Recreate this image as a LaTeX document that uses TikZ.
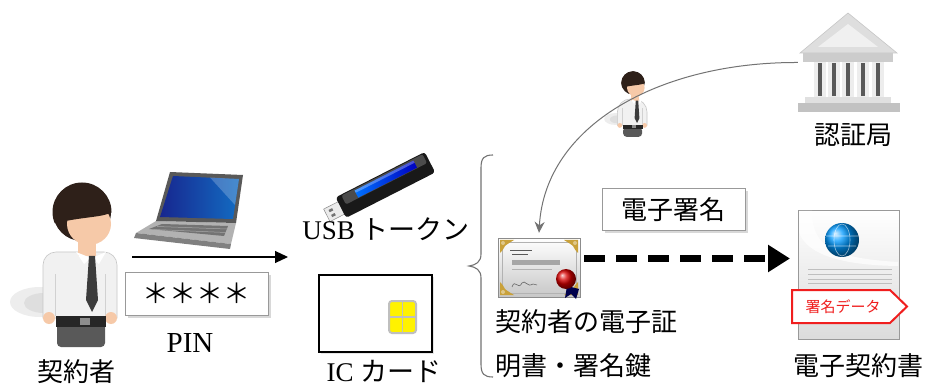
\documentclass[tikz,border=0pt]{standalone}
\usepackage{fontspec}
\setmainfont{Liberation Serif}
\newfontfamily\jp{Noto Sans CJK JP}
\usetikzlibrary{arrows.meta,shadows,calc}

\definecolor{skin}{HTML}{F6C9A8}
\definecolor{hair}{HTML}{2E2019}
\definecolor{shirt}{HTML}{F1F1F1}
\definecolor{tiecol}{HTML}{3C3C3C}
\definecolor{pants}{HTML}{595959}
\definecolor{scrblue}{HTML}{1B2DA8}
\definecolor{gold}{HTML}{C9A13A}
\definecolor{tagred}{HTML}{F01E1E}

\tikzset{
  lbl/.style={inner sep=0pt, font=\jp\fontsize{26}{30}\selectfont},
  textbox/.style={draw=black!40, fill=white, line width=0.8pt, inner sep=0pt,
    minimum width=143pt, minimum height=42pt,
    drop shadow={shadow xshift=3pt, shadow yshift=-3pt, fill=black!30}},
  art/.style={inner sep=0pt, minimum width=#1},
  person/.pic={
    % soft cast shadow
    \fill[black!7] (-42,90) ellipse [x radius=30pt, y radius=15pt];
    \fill[black!13] (-38,91) ellipse [x radius=20pt, y radius=10pt];
    % pants
    \fill[pants, rounded corners=4pt] (-25,110) rectangle (23,135);
    % shirt with sleeves
    \filldraw[fill=shirt, draw=black!22, line width=0.6pt]
      (-39,106) [rounded corners=13pt] -- (-39,40) -- (35,40) [sharp corners] -- (35,106) -- cycle;
    \draw[black!18, line width=0.6pt] (-27,62) -- (-27,104) (23,62) -- (23,104);
    % hands
    \fill[skin] (-33,106) ellipse [x radius=6pt, y radius=6pt];
    \fill[skin] (29,106) ellipse [x radius=6pt, y radius=6pt];
    % belt
    \fill[black!85] (-26,104) rectangle (24,115);
    \fill[black!45] (-2,106) rectangle (8,113);
    % neck and collar
    \fill[skin] (-4,26) rectangle (14,44);
    \fill[white] (-6,40) -- (9,46) -- (2,52) -- cycle;
    \fill[white] (24,40) -- (10,46) -- (17,52) -- cycle;
    % tie
    \fill[tiecol] (7,44) -- (13,44) -- (16,88) -- (10,100) -- (4,88) -- cycle;
    % head: hair, face, fringe
    \fill[hair] (0,0) circle [radius=29pt];
    \fill[skin] (7,12) ellipse [x radius=22pt, y radius=21pt];
    \begin{scope}
      \clip (0,0) circle [radius=29.5pt];
      \fill[hair] (-31,-31) -- (31,-31) -- (31,0) .. controls (18,6) and (4,4) .. (-31,12) -- cycle;
    \end{scope}
  }
}

\begin{document}
\begin{tikzpicture}[x=1pt,y=-1pt]
\fill[white] (0,0) rectangle (931,387);
\useasboundingbox (0,0) rectangle (931,387);

% ---------- signer ----------
\node[art=76pt, minimum height=164pt] (signer) at (80,264) {};
\pic at (82,212) {person};
\node[lbl] (signerlbl) at (76,372) {契約者};

% ---------- laptop ----------
\node[art=110pt, minimum height=78pt] (laptop) at (188,210) {};
\fill[black!30] (156,221) -- (236,223) -- (231,244) -- (136,233) -- cycle;
\fill[black!55] (162,224) -- (228,226) -- (224,236) -- (149,229) -- cycle;
\draw[black!35, line width=0.5pt] (157,226.5) -- (227,229) (154,229.5) -- (226,232.5);
\fill[black!50] (136,233) -- (231,244) -- (230,249) -- (134,238) -- cycle;
\fill[black!65] (170,172) -- (243,175) -- (236,223) -- (156,221) -- cycle;
\shade[left color=scrblue!85!black, right color=scrblue!70!cyan]
  (173,176) -- (239,179) -- (233,219) -- (160,217) -- cycle;
\fill[white, opacity=0.22] (210,177.5) -- (239,179) -- (235,205) -- cycle;

% ---------- PIN ----------
\node[textbox, minimum height=43pt, font=\jp\fontsize{27}{30}\selectfont] (pin) at (196.5,293.5) {＊＊＊＊};
\node[inner sep=0pt, font=\fontsize{29}{32}\selectfont] (pinlbl) at (190,343) {PIN};

% ---------- USB token ----------
\node[art=105pt, minimum height=60pt] (usb) at (378,188) {};
\begin{scope}[shift={(378.5,189)}, rotate=27]
  \filldraw[fill=black!8, draw=black!45, line width=0.5pt] (-58,-7) rectangle (-40,7);
  \fill[black!55] (-54,-4) rectangle (-50,-1.5) (-54,1.5) rectangle (-50,4);
  \fill[black!90, rounded corners=3pt] (-42,-12) rectangle (58,11);
  \fill[black!70, rounded corners=2pt] (-36,-11) rectangle (55,-1);
  \shade[left color=blue!55!cyan, right color=blue!75!black] (-22,-9.5) rectangle (44,-1.5);
  \fill[white, opacity=0.3] (-22,-9.5) rectangle (44,-7);
\end{scope}
\node[inner sep=0pt, font=\fontsize{27}{30}\selectfont] (usblbl) at (386,229) {USB {\jp トークン}};

% ---------- PIN entry arrow ----------
\coordinate (pinfrom) at (132,257);
\coordinate (pinto) at (288,257);
\draw[line width=1.2pt, -{Triangle[length=13pt, width=12pt]}] (pinfrom) -- (pinto);

% ---------- IC card ----------
\node[draw=black, line width=1.8pt, fill=white, minimum width=113pt, minimum height=77pt,
  inner sep=0pt, drop shadow={shadow xshift=2pt, shadow yshift=-2pt, fill=black!20}] (card) at (375.5,313.5) {};
\filldraw[fill=yellow, draw=black!25, line width=2pt, rounded corners=3pt] (389,301) rectangle (416,333);
\draw[black!25, line width=1.2pt] (402.5,301) -- (402.5,333) (389,317) -- (416,317);
\node[inner sep=0pt, font=\fontsize{27}{30}\selectfont] (cardlbl) at (384,371) {IC {\jp カード}};

% ---------- brace ----------
\draw[black!55, line width=1.1pt]
  (493,155) .. controls (484,155) and (481,158) .. (481,168) -- (481,254)
  .. controls (481,262) and (476,265) .. (469,266)
  .. controls (476,267) and (481,270) .. (481,278) -- (481,364)
  .. controls (481,374) and (484,377) .. (493,377);

% ---------- certificate ----------
\node[art=82pt, minimum height=59pt] (cert) at (539,267.5) {};
\shade[top color=white, bottom color=black!22, draw=black!45, line width=0.6pt] (498,238) rectangle (580,297);
\draw[black!30, line width=0.5pt] (502,242) rectangle (576,293);
\foreach \cx/\cy/\sx/\sy in {502/242/1/1, 576/242/-1/1, 502/293/1/-1, 576/293/-1/-1}{
  \begin{scope}[shift={(\cx,\cy)}, xscale=\sx, yscale=\sy]
    \fill[gold] (-2,-2) -- (12,-2) .. controls (7,1) and (4,3) .. (3,4)
      .. controls (2,6) and (1,8) .. (-2,11) -- cycle;
    \fill[gold!60!white] (1,1) circle [radius=2pt];
  \end{scope}
}
\draw[black!65, line width=0.8pt] (510,250) -- (532,250) (512,254.5) -- (528,254.5);
\fill[black!35] (512,260) rectangle (560,265);
\draw[black!30, line width=0.6pt] (512,269) -- (552,269);
\draw[black!60, line width=0.6pt] (512,287) .. controls (515,278) and (518,291) .. (522,283)
  .. controls (525,279) and (527,288) .. (533,284) -- (537,285);
\fill[blue!30!black] (567,286) -- (579,289) -- (576,299) -- (571,294) -- (565,298) -- cycle;
\shade[ball color=red!85!black] (566,279) circle [radius=10pt];
\node[lbl, anchor=west] (certlbl1) at (495,322) {契約者の電子証};
\node[lbl, anchor=west] (certlbl2) at (495,366) {明書・署名鍵};

% ---------- CA ----------
\node[art=102pt, minimum height=101pt] (ca) at (849,62.5) {};
\filldraw[fill=black!13, draw=black!22, line width=0.6pt] (848,13) -- (800,53) -- (897,53) -- cycle;
\fill[black!6] (848,24) -- (818,47) -- (878,47) -- cycle;
\fill[black!20] (803,53) rectangle (893,62);
\foreach \cxc in {820,834,848,863,878}{
  \fill[black!7] (\cxc-6,62) rectangle (\cxc+6,97);
  \fill[black!65] (\cxc-2,63) rectangle (\cxc+2,96);
}
\fill[black!12] (805,97) rectangle (891,103);
\fill[black!24] (798,103) rectangle (900,112);
\node[lbl] (calbl) at (853,135) {認証局};

% ---------- operator ----------
\node[art=38pt, minimum height=62pt] (operator) at (632,104) {};
\pic[scale=0.4] at (633,83) {person};

% ---------- issuance curve ----------
\draw[black!55, line width=1pt, -{Stealth[length=11pt, width=10pt]}]
  (ca.west) .. controls (660,62) and (545,125) .. ([yshift=5pt]cert.north);

% ---------- signature label ----------
\node[textbox, font=\jp\fontsize{26}{30}\selectfont] (sig) at (673.5,209.5) {電子署名};

% ---------- signing arrow ----------
\coordinate (signfrom) at (584,258.5);
\coordinate (signto) at (790,258.5);
\draw[line width=7pt, dash pattern=on 21pt off 11pt,
  -{Triangle[length=22pt, width=26pt]}] (signfrom) -- (signto);

% ---------- signed contract ----------
\node[art=101pt, minimum height=129pt] (doc) at (848.5,274.5) {};
\shade[top color=white, bottom color=black!14, draw=black!40, line width=0.7pt] (798,210) rectangle (899,339);
\fill[white, opacity=0.7] (799,211) -- (812,211) .. controls (812,245) and (830,258) .. (898,262)
  -- (898,266) .. controls (830,265) and (805,250) .. (799,232) -- cycle;
\shade[ball color=cyan!60!blue] (842,240) circle [radius=17pt];
\draw[white, opacity=0.6, line width=0.6pt] (842,240) ellipse [x radius=8pt, y radius=16pt]
  (826,236) -- (858,236) (828,246) -- (856,246);
\foreach \ly in {270,274.5,279,283.5}{
  \draw[black!25, line width=1pt] (808,\ly) -- (892,\ly);
}
\filldraw[fill=white, draw=tagred, line width=2pt] (792,290) -- (890,290) -- (907,306.5) -- (890,323) -- (792,323) -- cycle;
\node[inner sep=0pt, text=tagred, font=\jp\fontsize{15}{18}\selectfont] (tag) at (843,306.5) {署名データ};
\node[lbl] (doclbl) at (858,366) {電子契約書};

\end{tikzpicture}
\end{document}
